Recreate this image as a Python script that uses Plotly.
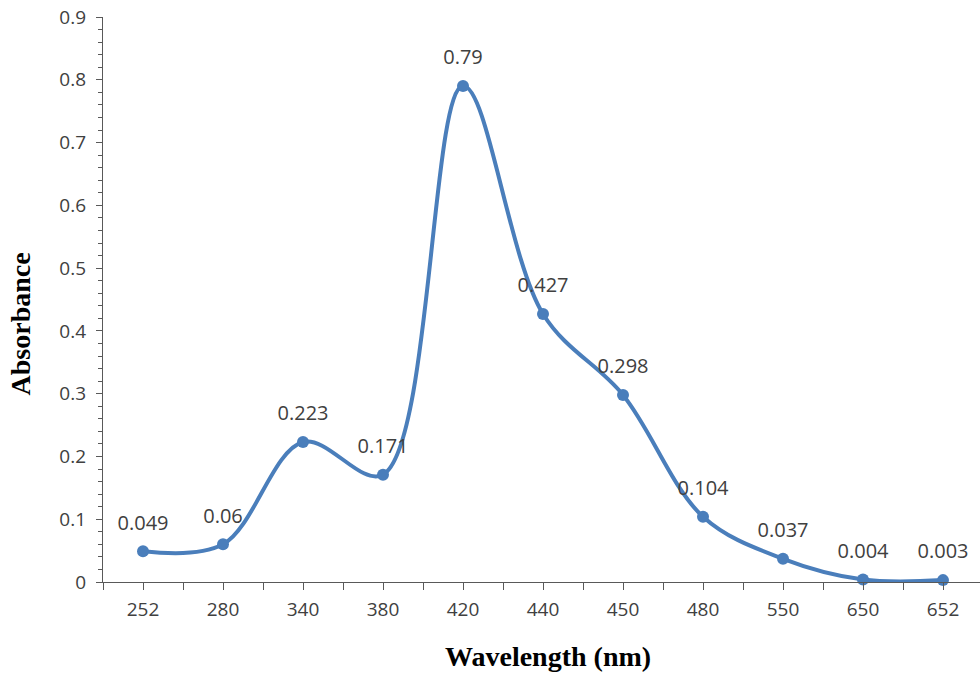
import plotly.graph_objects as go

wavelengths = ["252", "280", "340", "380", "420", "440", "450", "480", "550", "650", "652"]
absorbance = [0.049, 0.06, 0.223, 0.171, 0.79, 0.427, 0.298, 0.104, 0.037, 0.004, 0.003]
y_ticks = [0, 0.1, 0.2, 0.3, 0.4, 0.5, 0.6, 0.7, 0.8, 0.9]

positions = list(range(len(wavelengths)))
label_text = [str(v) for v in absorbance]

LINE = "#4A7EBB"
AX = "#595959"
SANS = "Open Sans, Noto Sans, sans-serif"
SERIF = "Liberation Serif, Times New Roman, serif"
TICKFONT = dict(family=SANS, size=19, color="#404040")

fig = go.Figure()
fig.add_trace(go.Scatter(
    x=positions, y=absorbance,
    mode="lines+markers",
    line=dict(color=LINE, width=4, shape="spline", smoothing=1.0),
    marker=dict(color=LINE, size=12),
    showlegend=False, cliponaxis=False, hoverinfo="x+y",
))
# data labels (transparent big marker used only to lift labels above points)
fig.add_trace(go.Scatter(
    x=positions, y=absorbance,
    mode="markers+text",
    marker=dict(color="rgba(0,0,0,0)", size=25),
    text=label_text, textposition="top center",
    textfont=dict(family=SANS, size=20, color="#404040"),
    showlegend=False, cliponaxis=False, hoverinfo="skip",
))

xr = [-0.5, -0.5 + 877 / 80]
yr = [0, 0.9]

fig.update_layout(
    width=980, height=675,
    margin=dict(l=103, r=0, t=17, b=93),
    plot_bgcolor="white", paper_bgcolor="white",
    xaxis=dict(
        range=xr, tickmode="array", tickvals=positions, ticktext=wavelengths,
        ticks="outside", ticklen=7, tickwidth=1.3, tickcolor=AX,
        minor=dict(tickmode="linear", tick0=0.5, dtick=1, ticks="outside", ticklen=7, tickwidth=1.3, tickcolor=AX),
        showline=True, linecolor=AX, linewidth=1.3, showgrid=False, zeroline=False,
        tickfont=TICKFONT, ticklabelstandoff=3,
    ),
    xaxis2=dict(
        range=xr, overlaying="x", tickmode="array", tickvals=positions, ticktext=[""] * len(positions),
        ticks="inside", ticklen=6, tickwidth=1.3, tickcolor=AX, showline=False, showgrid=False,
        zeroline=False, showticklabels=False, anchor="y",
    ),
    yaxis=dict(
        range=yr, tickmode="array", tickvals=y_ticks, ticktext=[f"{v:g}" for v in y_ticks],
        ticks="outside", ticklen=6, tickwidth=1.3, tickcolor=AX,
        minor=dict(tickmode="linear", tick0=0, dtick=0.02, ticks="outside", ticklen=4, tickwidth=1.3, tickcolor=AX),
        showline=True, linecolor=AX, linewidth=1.3, showgrid=False, zeroline=False,
        tickfont=TICKFONT, ticklabelstandoff=6,
    ),
    yaxis2=dict(
        range=yr, overlaying="y", tickmode="array", tickvals=y_ticks,
        ticks="inside", ticklen=7, tickwidth=1.3, tickcolor=AX,
        minor=dict(tickmode="linear", tick0=0, dtick=0.02, ticks="inside", ticklen=7, tickwidth=1.3, tickcolor=AX),
        showline=False, showgrid=False, zeroline=False, showticklabels=False, anchor="x",
    ),
    annotations=[
        dict(text="<b>Wavelength (nm)</b>", xref="paper", yref="paper", x=0.5075, y=-0.1325,
             xanchor="center", yanchor="middle", showarrow=False,
             font=dict(family=SERIF, size=28, color="black")),
        dict(text="<b>Absorbance</b>", xref="paper", yref="paper", x=-0.0945, y=0.456,
             xanchor="center", yanchor="middle", showarrow=False, textangle=-90,
             font=dict(family=SERIF, size=28, color="black")),
    ],
)

fig.write_html("out.html")
